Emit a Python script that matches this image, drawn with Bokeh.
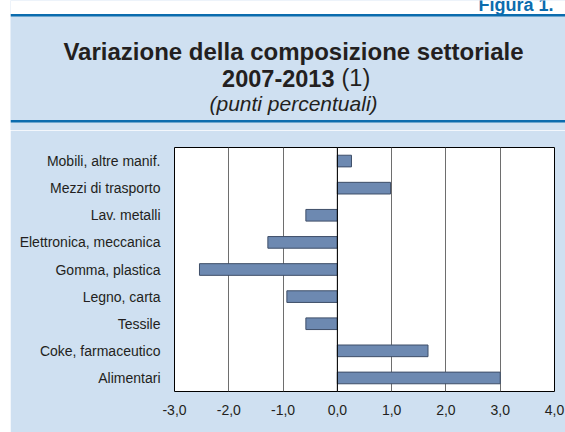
from bokeh.plotting import figure
from bokeh.layouts import column
from bokeh.models import FactorRange, Range1d, FixedTicker, Label, Span, Plot
from bokeh.embed import file_html
from bokeh.resources import INLINE

# ---- data ----
categories = ["Mobili, altre manif.", "Mezzi di trasporto", "Lav. metalli",
              "Elettronica, meccanica", "Gomma, plastica", "Legno, carta",
              "Tessile", "Coke, farmaceutico", "Alimentari"]
values = [0.26, 0.98, -0.58, -1.28, -2.54, -0.93, -0.58, 1.67, 3.0]
tick_values = [-3, -2, -1, 0, 1, 2, 3, 4]
tick_labels = ["-3,0", "-2,0", "-1,0", "0,0", "1,0", "2,0", "3,0", "4,0"]
title_line1 = "Variazione della composizione settoriale"
title_line2_bold = "2007-2013"
title_line2_regular = "(1)"
subtitle = "(punti percentuali)"
figure_tag = "Figura 1."

FONT = "Liberation Sans"
PANEL = "#cfe0f1"
BLUE = "#0b6cae"
TEXT = "#231f20"

PAGE_W = 565
LEFT_GAP = 10
W = PAGE_W - LEFT_GAP
HEAD_H = 130
CHART_H = 432 - HEAD_H

# ---------------- header figure (page-pixel coordinates, y downward) -------------
h = figure(width=W, height=HEAD_H, x_range=Range1d(LEFT_GAP, PAGE_W), y_range=Range1d(HEAD_H, 0),
           x_axis_location=None, y_axis_location=None,
           output_backend="svg", toolbar_location=None,
           min_border=0, min_border_left=0, min_border_right=0,
           min_border_top=0, min_border_bottom=0)
h.margin = (0, 0, 0, LEFT_GAP)
h.grid.visible = False
h.outline_line_color = None
h.background_fill_color = PANEL
h.border_fill_color = PANEL

# white strip above the top rule
h.quad(left=[LEFT_GAP], right=[PAGE_W], top=[0], bottom=[13.5],
       fill_color="white", line_color=None)
# blue rules
h.quad(left=[LEFT_GAP, LEFT_GAP], right=[PAGE_W, PAGE_W], top=[13.4, 119.5], bottom=[16.0, 122.0],
       fill_color=BLUE, line_color=None)


def lab(fig, x, y, text, size, style="normal", align="center", color=TEXT):
    fig.add_layout(Label(x=x, y=y, text=text, text_font=FONT, text_font_size=size,
                         text_font_style=style, text_align=align,
                         text_baseline="alphabetic", text_color=color))


lab(h, 293, 50.7, title_line1, "24px", "bold")
lab(h, 334, 77.7, title_line2_bold, "23.5px", "bold", "right")
lab(h, 341, 77.7, title_line2_regular, "23.5px", "normal", "left")
lab(h, 293, 103.3, subtitle, "21px", "italic")
lab(h, 478, 4.5, figure_tag, "18px", "bold", "left", BLUE)

# ---------------- chart figure ----------------
p = figure(width=W, height=CHART_H,
           y_range=FactorRange(factors=categories[::-1]),
           x_range=Range1d(-3, 4),
           output_backend="svg", toolbar_location=None,
           min_border_left=174 - LEFT_GAP, min_border_right=11,
           min_border_top=17, min_border_bottom=41)
p.margin = (0, 0, 0, LEFT_GAP)

p.border_fill_color = PANEL
p.background_fill_color = "white"
p.outline_line_color = "black"
p.outline_line_width = 1

p.hbar(y=categories, left=0, right=values, height=0.43,
       fill_color="#6d89b1", line_color="#3e4e68", line_width=1)

p.add_layout(Span(location=0, dimension="height", line_color="black", line_width=1))

p.xaxis.ticker = FixedTicker(ticks=tick_values)
p.xaxis.major_label_overrides = {t: l for t, l in zip(tick_values, tick_labels)}
p.xaxis.axis_line_color = None
p.xaxis.major_tick_line_color = None
p.xaxis.minor_tick_line_color = None
p.xaxis.major_label_standoff = 7
p.xaxis.major_label_text_font = FONT
p.xaxis.major_label_text_font_size = "14px"
p.xaxis.major_label_text_color = TEXT

p.yaxis.axis_line_color = None
p.yaxis.major_tick_line_color = None
p.yaxis.minor_tick_line_color = None
p.yaxis.major_label_standoff = 8
p.yaxis.major_label_text_font = FONT
p.yaxis.major_label_text_font_size = "14px"
p.yaxis.major_label_text_color = TEXT

p.xgrid.grid_line_color = "#6e6e6e"
p.xgrid.grid_line_alpha = 1
p.ygrid.grid_line_color = None

if "frame_align" in Plot.properties():
    h.frame_align = False
    p.frame_align = False
    out = column(h, p, spacing=0)
else:
    out = [h, p]

open("out.html", "w").write(file_html(out, INLINE))
